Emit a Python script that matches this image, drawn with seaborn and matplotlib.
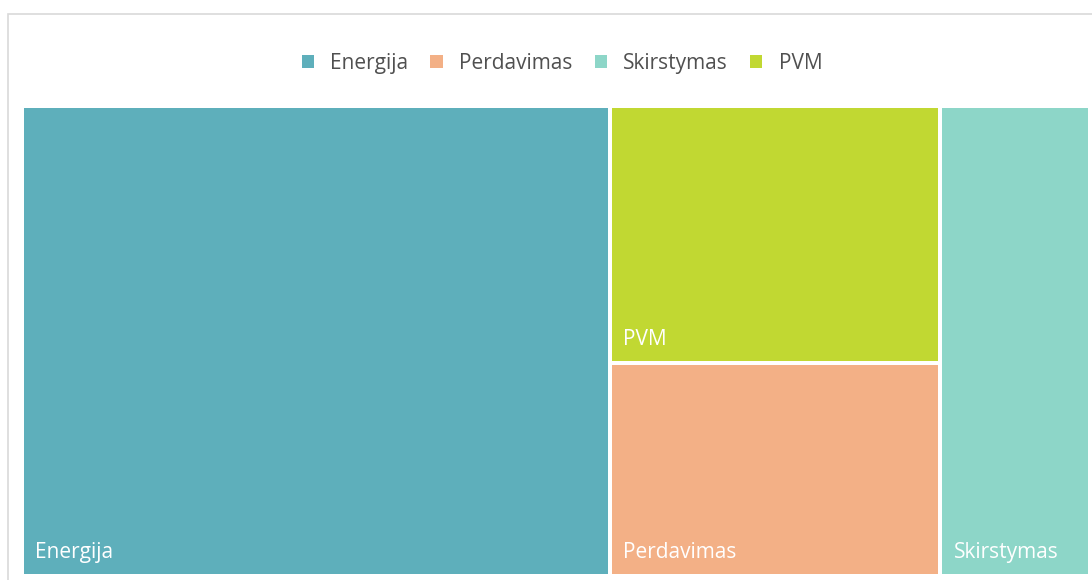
import matplotlib
matplotlib.use("Agg")
import matplotlib.pyplot as plt
from matplotlib.patches import Rectangle, Patch
import seaborn as sns

# Electricity price components (share of total, %)
categories = ["Energija", "PVM", "Perdavimas", "Skirstymas"]
values = [55.1, 16.9, 14.0, 14.0]
legend_order = ["Energija", "Perdavimas", "Skirstymas", "PVM"]
colors = {
    "Energija": "#5EAFBB",
    "Perdavimas": "#F3B086",
    "Skirstymas": "#8DD6C8",
    "PVM": "#C1D832",
}

sns.set_theme(style="white")
plt.rcParams["font.family"] = ["Open Sans", "DejaVu Sans"]

W, H = 1092, 580
fig = plt.figure(figsize=(W / 100, H / 100), dpi=100)
fig.patch.set_facecolor("white")

# outer frame of the chart area
fig.patches.append(Rectangle((8 / W, -0.1), 1.2, (H - 14) / H + 0.1,
                             transform=fig.transFigure, fill=False,
                             edgecolor="#d9d9d9", linewidth=1.2))


def worst(row, w):
    s = sum(row)
    return max(max(w * w * r / (s * s), s * s / (w * w * r)) for r in row)


def squarify(vals, x, y, dx, dy):
    total = sum(vals)
    areas = [v * dx * dy / total for v in vals]
    rects = []
    i = 0
    while i < len(areas):
        w = min(dx, dy)
        row = [areas[i]]
        j = i + 1
        while j < len(areas) and worst(row + [areas[j]], w) <= worst(row, w):
            row.append(areas[j])
            j += 1
        s = sum(row)
        if dx >= dy:
            cw = s / dy
            yy = y
            for r in row:
                h = r / cw
                rects.append((x, yy, cw, h))
                yy += h
            x += cw
            dx -= cw
        else:
            rh = s / dx
            xx = x
            for r in row:
                ww = r / rh
                rects.append((xx, y, ww, rh))
                xx += ww
            y += rh
            dy -= rh
        i = j
    return rects


# treemap area in pixels
left, top, right, bottom = 22, 106, 1090, 576
aw, ah = right - left, bottom - top
ax = fig.add_axes([left / W, (H - bottom) / H, aw / W, ah / H])
ax.set_xlim(0, aw)
ax.set_ylim(ah, 0)
ax.axis("off")

FS = 15
gap_pt = 4 * 72 / 100
for name, (x, y, dx, dy) in zip(categories, squarify(values, 0, 0, aw, ah)):
    ax.add_patch(Rectangle((x, y), dx, dy, facecolor=colors[name],
                           edgecolor="white", linewidth=gap_pt))
    ax.text(x + 13, y + dy - 18, name, color="white", fontsize=FS,
            ha="left", va="baseline")

handles = [Patch(facecolor=colors[n], edgecolor="none", label=n) for n in legend_order]
fig.legend(handles=handles, loc="center", bbox_to_anchor=(562 / W, 1 - 63 / H),
           ncol=4, frameon=False, fontsize=FS, handlelength=0.58,
           handleheight=0.58, handletextpad=0.8, columnspacing=1.05,
           labelcolor="#505050")

fig.savefig("out.png", dpi=100)
